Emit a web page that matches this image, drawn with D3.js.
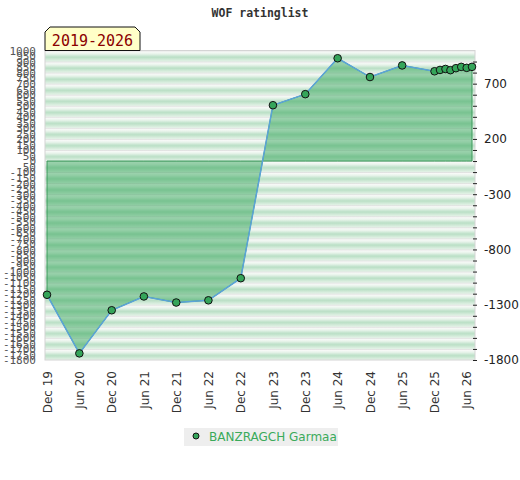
<!DOCTYPE html>
<html>
<head>
<meta charset="utf-8">
<script src="https://cdn.jsdelivr.net/npm/d3@7"></script>
<style>
  body { margin: 0; background: #fff; }
  svg { display: block; }
</style>
</head>
<body>
<div id="chart"></div>
<script>
// data
var dates = ["2019-12", "2020-06", "2020-12", "2021-06", "2021-12", "2022-06", "2022-12",
             "2023-06", "2023-12", "2024-06", "2024-12", "2025-06", "2025-12",
             "2026-01", "2026-02", "2026-03", "2026-04", "2026-05", "2026-06", "2026-07"];
var ratings = [-1210, -1740, -1350, -1225, -1280, -1260, -1060,
               505, 605, 930, 760, 865, 812,
               824, 833, 822, 840, 852, 843, 852];
var xTicks = ["2019-12", "2020-06", "2020-12", "2021-06", "2021-12", "2022-06", "2022-12",
              "2023-06", "2023-12", "2024-06", "2024-12", "2025-06", "2025-12", "2026-06"];
var leftTicks = d3.range(1000, -1801, -50);
var rightTicks = d3.range(-1800, 901, 100);
var rightLabels = [700, 200, -300, -800, -1300, -1800];
var playerName = "BANZRAGCH Garmaa";

var width = 520, height = 480;
var parse = d3.timeParse("%Y-%m");
var fmt = d3.timeFormat("%b %y");

var data = dates.map(function(d, i) { return {date: parse(d), value: ratings[i]}; });

var svg = d3.select("#chart").append("svg")
    .attr("width", width)
    .attr("height", height);

var x = d3.scaleTime()
    .domain([parse("2019-12"), parse("2026-07")])
    .range([47, 472]);

var y = d3.scaleLinear()
    .domain([-1800, 1000])
    .range([360, 50.5]);

var plotL = 45, plotR = 475;

// stripe pattern
var defs = svg.append("defs");
var band = y(900) - y(1000);
var grad = defs.append("linearGradient")
    .attr("id", "band")
    .attr("x1", 0).attr("y1", 0).attr("x2", 0).attr("y2", 1);
grad.selectAll("stop")
    .data([[0, "#d6d6d6"], [0.12, "#f7f9f7"], [0.3, "#e8f4eb"], [0.6, "#b9dfc5"], [1, "#e6f3e9"]])
    .enter().append("stop")
    .attr("offset", function(d) { return d[0]; })
    .attr("stop-color", function(d) { return d[1]; });

defs.append("pattern")
    .attr("id", "stripes")
    .attr("patternUnits", "userSpaceOnUse")
    .attr("x", 0).attr("y", y(1000))
    .attr("width", width).attr("height", band)
    .append("rect")
    .attr("width", width).attr("height", band)
    .attr("fill", "url(#band)");

svg.append("rect")
    .attr("x", plotL).attr("y", y(1000))
    .attr("width", plotR - plotL).attr("height", y(-1800) - y(1000))
    .attr("fill", "url(#stripes)")
    .attr("stroke", "#d4d4d4");

// area down to zero
var area = d3.area()
    .x(function(d) { return x(d.date); })
    .y0(y(0))
    .y1(function(d) { return y(d.value); });

svg.append("path")
    .datum(data)
    .attr("d", area)
    .attr("fill", "rgba(40,160,80,0.45)")
    .attr("stroke", "#3a9a5a")
    .attr("stroke-width", 1);

var line = d3.line()
    .x(function(d) { return x(d.date); })
    .y(function(d) { return y(d.value); });

svg.append("path")
    .datum(data)
    .attr("d", line)
    .attr("fill", "none")
    .attr("stroke", "#5ba3d9")
    .attr("stroke-width", 1.5);

svg.selectAll("circle.pt")
    .data(data)
    .enter().append("circle")
    .attr("class", "pt")
    .attr("cx", function(d) { return x(d.date); })
    .attr("cy", function(d) { return y(d.value); })
    .attr("r", 3.8)
    .attr("fill", "#35a55a")
    .attr("stroke", "#111")
    .attr("stroke-width", 1);

// left axis (crowded labels)
var leftAxis = d3.axisLeft(y).tickValues(leftTicks).tickSize(0).tickPadding(0)
    .tickFormat(function(d) { return String(d); });
var gl = svg.append("g")
    .attr("transform", "translate(36,0)")
    .call(leftAxis);
gl.select(".domain").remove();
gl.selectAll("text")
    .attr("font-family", "DejaVu Sans Mono, monospace")
    .attr("font-size", 11)
    .attr("fill", "#555")
    .attr("dy", "0.35em");

// right axis
var rightAxis = d3.axisRight(y).tickValues(rightTicks).tickSize(4).tickPadding(7)
    .tickFormat(function(d) { return rightLabels.indexOf(d) >= 0 ? String(d) : ""; });
var gr = svg.append("g")
    .attr("transform", "translate(" + (plotR - 2) + ",0)")
    .call(rightAxis);
gr.select(".domain").remove();
gr.selectAll("line").attr("stroke", "#222");
gr.selectAll("text")
    .attr("font-family", "DejaVu Sans, sans-serif")
    .attr("font-size", 12)
    .attr("fill", "#222");

// x axis
var xAxis = d3.axisBottom(x).tickValues(xTicks.map(parse)).tickSize(0)
    .tickFormat(fmt);
var gx = svg.append("g")
    .attr("transform", "translate(0," + y(-1800) + ")")
    .call(xAxis);
gx.select(".domain").remove();
gx.selectAll("text")
    .attr("font-family", "DejaVu Sans, sans-serif")
    .attr("font-size", 12)
    .attr("fill", "#333")
    .attr("transform", "rotate(-90)")
    .attr("text-anchor", "end")
    .attr("x", -11)
    .attr("y", 0)
    .attr("dy", "0.35em");

// title
svg.append("text")
    .attr("x", 260).attr("y", 17)
    .attr("text-anchor", "middle")
    .attr("font-family", "DejaVu Sans Mono, monospace")
    .attr("font-weight", "bold")
    .attr("font-size", 11.5)
    .attr("fill", "#333")
    .text("WOF ratinglist");

// period tab
var tx0 = 45, tx1 = 140, ty0 = 27, ty1 = 50.5, c = 5;
svg.append("path")
    .attr("d", "M" + tx0 + "," + ty1 + "L" + tx0 + "," + (ty0 + c) + "L" + (tx0 + c) + "," + ty0 +
               "L" + (tx1 - c) + "," + ty0 + "L" + tx1 + "," + (ty0 + c) + "L" + tx1 + "," + ty1 + "Z")
    .attr("fill", "#ffffc8")
    .attr("stroke", "#111")
    .attr("stroke-width", 1);
svg.append("text")
    .attr("x", (tx0 + tx1) / 2).attr("y", 46)
    .attr("text-anchor", "middle")
    .attr("font-family", "DejaVu Sans Mono, monospace")
    .attr("font-size", 15)
    .attr("fill", "#8b0000")
    .text("2019-2026");

// legend
var lg = svg.append("g").attr("transform", "translate(184,428)");
lg.append("rect")
    .attr("width", 154).attr("height", 18)
    .attr("fill", "#eeeeee");
lg.append("circle")
    .attr("cx", 12).attr("cy", 8)
    .attr("r", 3)
    .attr("fill", "#35a55a")
    .attr("stroke", "#111");
lg.append("text")
    .attr("x", 25).attr("y", 12.5)
    .attr("font-family", "DejaVu Sans, sans-serif")
    .attr("font-size", 12)
    .attr("fill", "#3aaa5a")
    .text(playerName);
</script>
</body>
</html>
